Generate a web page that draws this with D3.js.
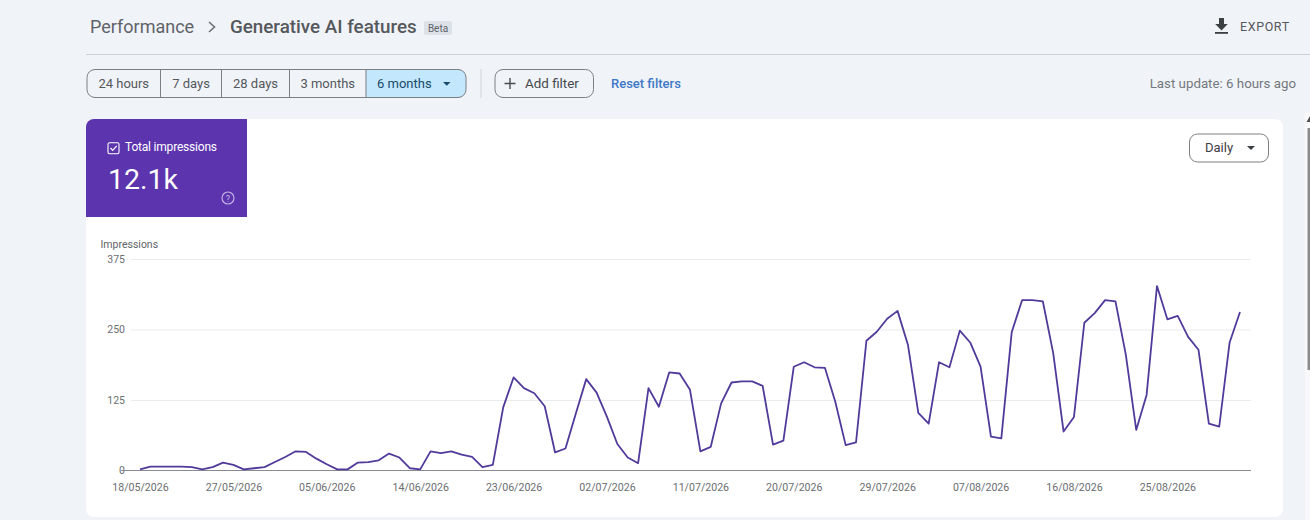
<!DOCTYPE html>
<html>
<head>
<meta charset="utf-8">
<title>Generative AI features</title>
<script src="https://cdn.jsdelivr.net/npm/d3@7"></script>
<style>
  html, body { margin: 0; padding: 0; background: #f0f3f8; overflow: hidden; }
  svg { display: block; font-family: Roboto, sans-serif; }
</style>
</head>
<body>
<main></main>
<script>
// data, one value per day
const firstDay = '18/05/2026';
const impressions = [
  2, 7, 7, 7, 7, 6, 2, 6, 14, 10,
  2, 4, 6, 15, 24, 34, 33, 21, 11, 2,
  2, 14, 15, 18, 30, 23, 4, 2, 34, 31,
  34, 28, 24, 6, 10, 112, 165, 146, 137, 114,
  32, 39, 101, 162, 138, 95, 47, 23, 13, 146,
  113, 174, 172, 143, 34, 42, 119, 156, 158, 158,
  150, 46, 53, 184, 192, 183, 182, 122, 45, 50,
  230, 246, 269, 283, 223, 102, 83, 192, 183, 248,
  227, 184, 60, 57, 245, 302, 302, 300, 208, 69,
  95, 262, 279, 302, 300, 205, 72, 134, 327, 268,
  274, 237, 214, 83, 78, 227, 281
];
const yTicks = [0, 125, 250, 375];
const xTickLabels = [
  '18/05/2026', '27/05/2026', '05/06/2026', '14/06/2026', '23/06/2026', '02/07/2026',
  '11/07/2026', '20/07/2026', '29/07/2026', '07/08/2026', '16/08/2026', '25/08/2026'
];
const rangeLabels = ['24 hours', '7 days', '28 days', '3 months', '6 months'];
const rangeEdges = [87, 160.5, 221.5, 289.5, 366, 466];

const sizeOfSVG = { width: 1310, height: 520 };
const parseDay = d3.utcParse('%d/%m/%Y');
const formatDay = d3.utcFormat('%d/%m/%Y');
const purple = '#5c34ae';
const lineColor = '#523a9b';

const svg = d3.select('main').append('svg')
  .attr('width', sizeOfSVG.width)
  .attr('height', sizeOfSVG.height);

const label = (x, y, text, size, fill, anchor = 'start', weight = 400) =>
  svg.append('text')
    .attr('x', x).attr('y', y)
    .attr('font-size', size)
    .attr('font-weight', weight)
    .attr('fill', fill)
    .attr('text-anchor', anchor)
    .text(text);

const header = () => {
  label(90, 33, 'Performance', 18, '#5f6368');
  svg.append('path').attr('d', 'M209 22l5.5 5-5.5 5').attr('fill', 'none')
    .attr('stroke', '#6d7175').attr('stroke-width', 1.6);
  label(230, 33, 'Generative AI features', 18.8, '#55585c', 'start', 500);
  svg.append('rect').attr('x', 424).attr('y', 21).attr('width', 28).attr('height', 14)
    .attr('rx', 2).attr('fill', '#dde1e8');
  label(438, 31.5, 'Beta', 10, '#5f6368', 'middle');

  svg.append('path').attr('d', 'M1219 18h5v6h3.8l-6.3 6.5-6.3-6.5h3.8z').attr('fill', '#3c4043');
  svg.append('rect').attr('x', 1215).attr('y', 32).attr('width', 13).attr('height', 1.8).attr('fill', '#3c4043');
  label(1240, 30.5, 'EXPORT', 12.5, '#55585c', 'start', 400).attr('letter-spacing', 0.6);

  svg.append('line').attr('x1', 86).attr('x2', 1310).attr('y1', 54.5).attr('y2', 54.5)
    .attr('stroke', '#cfd2d6');
};

const filters = () => {
  const top = 69.5, h = 28;
  const x0 = rangeEdges[0], x1 = rangeEdges[5], sel = rangeEdges[4];
  svg.append('path')
    .attr('d', `M${sel} ${top}H${x1 - 8}a8 8 0 0 1 8 8v${h - 16}a8 8 0 0 1 -8 8H${sel}z`)
    .attr('fill', '#c3e7fd');
  svg.append('rect').attr('x', x0).attr('y', top).attr('width', x1 - x0).attr('height', h)
    .attr('rx', 8).attr('fill', 'none').attr('stroke', '#7c7f83');
  svg.selectAll('.range-sep').data(rangeEdges.slice(1, 5)).enter().append('line')
    .attr('class', 'range-sep')
    .attr('x1', d => d).attr('x2', d => d).attr('y1', top).attr('y2', top + h)
    .attr('stroke', '#7c7f83');
  rangeLabels.forEach((t, i) => {
    const selected = i === 4;
    label(selected ? sel + 11 : (rangeEdges[i] + rangeEdges[i + 1]) / 2, 88, t, 13,
      selected ? '#174a6b' : '#55585c', selected ? 'start' : 'middle');
  });
  svg.append('path').attr('d', 'M443 82h7.5l-3.75 3.75z').attr('fill', '#174a6b');

  svg.append('line').attr('x1', 481).attr('x2', 481).attr('y1', 69).attr('y2', 98)
    .attr('stroke', '#dcdfe3').attr('stroke-width', 1.5);

  svg.append('rect').attr('x', 495).attr('y', top).attr('width', 98.5).attr('height', h)
    .attr('rx', 8).attr('fill', 'none').attr('stroke', '#7c7f83');
  svg.append('path').attr('d', 'M510 78v11M504.5 83.5h11').attr('stroke', '#494c50').attr('stroke-width', 1.4);
  label(525, 88, 'Add filter', 13.4, '#45484c');
  label(611, 88, 'Reset filters', 13, '#3f78c6', 'start', 500);
  label(1296, 88, 'Last update: 6 hours ago', 13.3, '#74787d', 'end');
};

const card = () => {
  svg.append('rect').attr('x', 86).attr('y', 119).attr('width', 1197).attr('height', 398)
    .attr('rx', 8).attr('fill', '#fff');
  svg.append('path').attr('d', 'M86 217V127a8 8 0 0 1 8-8H247V217z').attr('fill', purple);

  svg.append('rect').attr('x', 108).attr('y', 142.7).attr('width', 11).attr('height', 11)
    .attr('rx', 1.5).attr('fill', 'none').attr('stroke', '#fff').attr('stroke-width', 1.1);
  svg.append('path').attr('d', 'M110.5 148l2.2 2.4 4-4.6').attr('fill', 'none')
    .attr('stroke', '#fff').attr('stroke-width', 1.2);
  label(125, 151, 'Total impressions', 12, '#fff').attr('letter-spacing', -0.2);
  label(108, 189, '12.1k', 28.5, '#fff');
  svg.append('circle').attr('cx', 228).attr('cy', 198).attr('r', 6)
    .attr('fill', 'none').attr('stroke', '#c4b2e6').attr('stroke-width', 1.2);
  label(228, 201.5, '?', 9, '#c4b2e6', 'middle');

  svg.append('rect').attr('x', 1189.5).attr('y', 134).attr('width', 79).attr('height', 28)
    .attr('rx', 8).attr('fill', '#fff').attr('stroke', '#7c7f83');
  label(1205, 152, 'Daily', 13, '#3c4043');
  svg.append('path').attr('d', 'M1247 146h8l-4 4z').attr('fill', '#3c4043');
};

const chart = () => {
  const days = impressions.map((d, i) => d3.utcDay.offset(parseDay(firstDay), i));
  const xScale = d3.scaleUtc()
    .domain(d3.extent(days))
    .range([140, 1240]);
  const yScale = d3.scaleLinear()
    .domain([0, 375])
    .range([470.5, 259]);

  label(100.5, 248, 'Impressions', 10.5, '#5f6368');

  const yAxis = svg.append('g')
    .attr('transform', 'translate(131,0)')
    .call(d3.axisLeft(yScale).tickValues(yTicks).tickSize(-1120).tickPadding(6));
  yAxis.select('.domain').remove();
  yAxis.selectAll('.tick line').attr('stroke', d => d === 0 ? 'none' : '#e9ebee');
  yAxis.selectAll('text').attr('font-size', 10.5).attr('font-family', 'Roboto, sans-serif').attr('fill', '#6b6e72');

  const xAxis = svg.append('g')
    .attr('transform', 'translate(0,470.5)')
    .call(d3.axisBottom(xScale)
      .tickValues(xTickLabels.map(parseDay))
      .tickFormat(formatDay)
      .tickSize(0)
      .tickPadding(13));
  xAxis.select('.domain').attr('d', 'M121 0H1251').attr('stroke', '#8a8a92');
  xAxis.selectAll('text').attr('font-size', 10.6).attr('font-family', 'Roboto, sans-serif').attr('fill', '#6b6e72');

  const line = d3.line()
    .x((d, i) => xScale(days[i]))
    .y(d => yScale(d));
  svg.append('path')
    .datum(impressions)
    .attr('d', line)
    .attr('fill', 'none')
    .attr('stroke', lineColor)
    .attr('stroke-width', 1.8)
    .attr('stroke-linejoin', 'round');
};

const scrollbar = () => {
  svg.append('rect').attr('x', 1305).attr('y', 112).attr('width', 5).attr('height', 408).attr('fill', '#f8f8fb');
  svg.append('path').attr('d', 'M1306.5 122l3.5-6v6z').attr('fill', '#505050');
  svg.append('rect').attr('x', 1307.5).attr('y', 128).attr('width', 2.5).attr('height', 242).attr('fill', '#8b8b8b');
};

header();
filters();
card();
chart();
scrollbar();
</script>
</body>
</html>
